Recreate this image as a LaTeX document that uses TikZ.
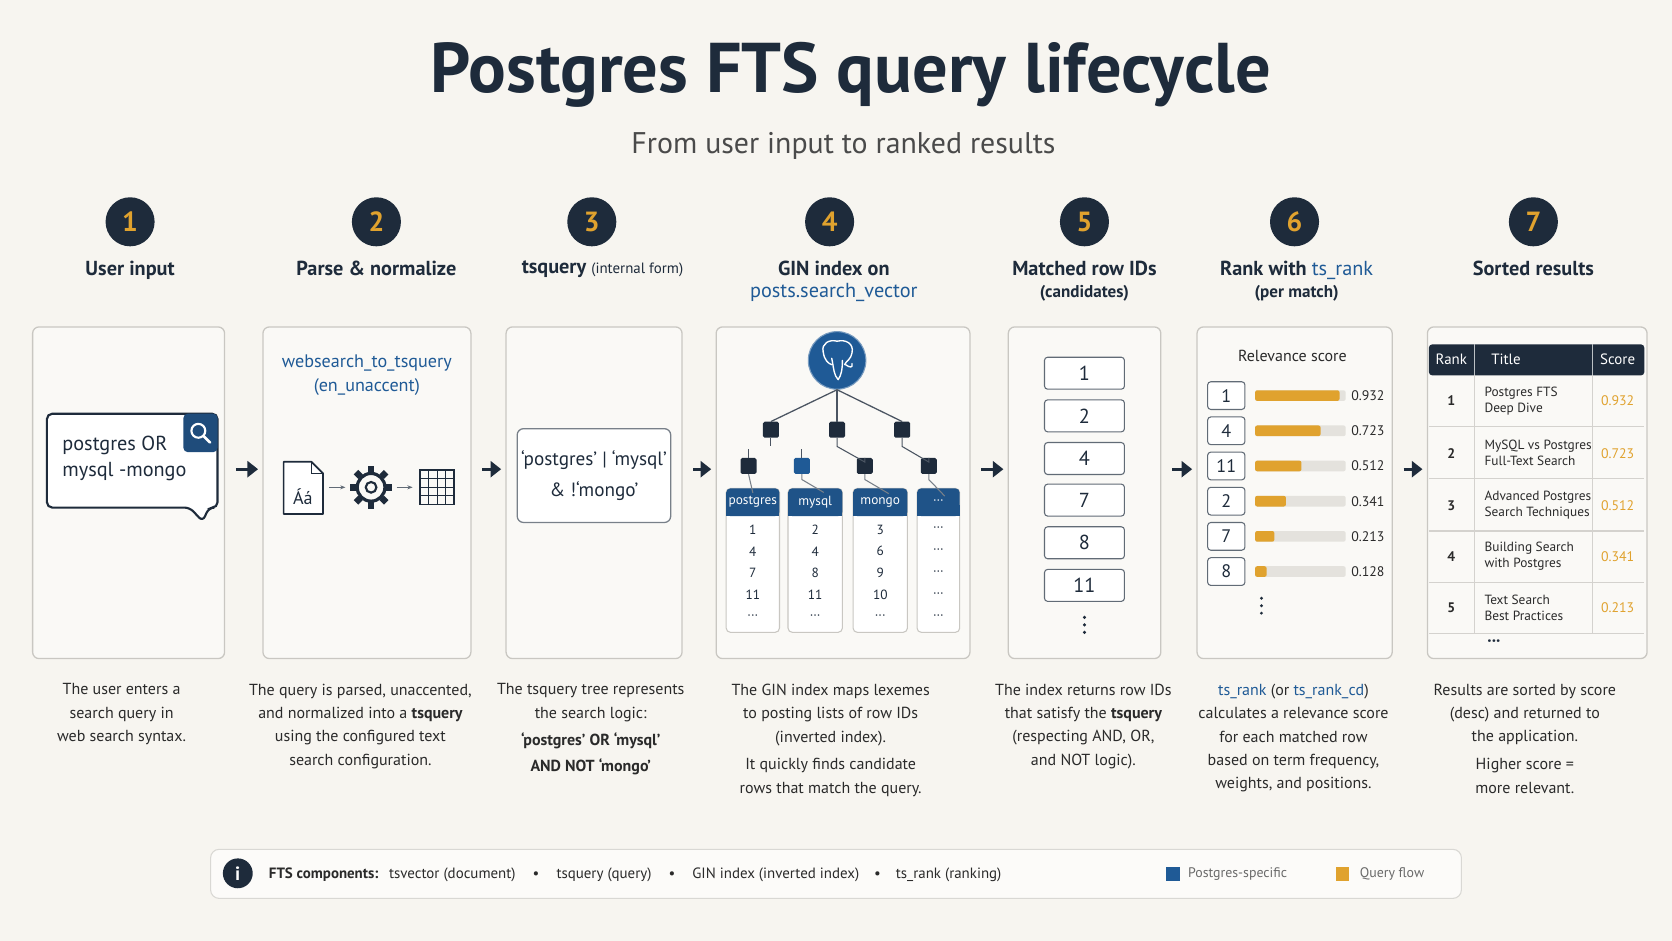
\documentclass[tikz,border=0pt]{standalone}
\usepackage{fontspec}
\setmainfont{PT Sans}
\usetikzlibrary{arrows.meta}
\definecolor{bg}{HTML}{F7F5F0}
\definecolor{navy}{HTML}{1E2B3B}
\definecolor{pblue}{HTML}{1F5A96}
\definecolor{orng}{HTML}{E0A22E}
\definecolor{pborder}{HTML}{C9C7C2}
\definecolor{pfill}{HTML}{FAF9F6}
\definecolor{txt}{HTML}{2A2A2A}
\definecolor{barbg}{HTML}{E4E2DD}
\newcommand{\fs}[1]{\fontsize{#1}{\the\dimexpr #1pt*6/5\relax}\selectfont}
\newcommand{\dts}{\textperiodcentered\textperiodcentered\textperiodcentered}
\begin{document}
\begin{tikzpicture}[x=1pt,y=-1pt,
  panel/.style={draw=pborder,fill=pfill,rounded corners=6pt,line width=1.2pt,anchor=north west,inner sep=0},
  stepc/.style={circle,fill=navy,text=orng,minimum size=46pt,inner sep=0,font=\fs{26}\bfseries},
  steplbl/.style={text=navy,font=\fs{19}\bfseries,align=center,anchor=north},
  desc/.style={text=txt,font=\fs{15},align=center,anchor=north,inner sep=0},
  bigarrow/.style={draw=navy,line width=3pt,-{Triangle[length=10pt,width=15pt]},shorten <=10pt,shorten >=4pt},
  numbox/.style={draw=navy!70,fill=white,rounded corners=3pt,line width=1pt,minimum width=75pt,minimum height=30pt,font=\fs{19},text=navy},
  smbox/.style={draw=navy!70,fill=white,rounded corners=3pt,line width=1pt,minimum width=35pt,minimum height=26pt,font=\fs{17},text=navy},
  sq/.style={fill=navy,rounded corners=1.5pt,minimum size=15pt,inner sep=0},
  sqb/.style={fill=pblue,rounded corners=1.5pt,minimum size=15pt,inner sep=0},
  cell/.style={font=\fs{12.5},text=txt,inner sep=0},
  vdot/.style={fill=navy,circle,inner sep=0,minimum size=3.2pt}
]
\fill[bg] (0,0) rectangle (1568,882);
\useasboundingbox (0,0) rectangle (1568,882);

\node[font=\fs{66}\bfseries,text=navy] (title) at (798,70) {Postgres FTS query lifecycle};
\node[font=\fs{28},text=txt!85] (sub) at (791,137) {From user input to ranked results};

% step circles
\foreach \n/\x in {1/122,2/353,3/555,4/778,5/1017,6/1214,7/1438}
  \node[stepc] (c\n) at (\x,208) {\n};
\node[steplbl] (l1) at (122,241) {User input};
\node[steplbl] (l2) at (353,241) {Parse \& normalize};
\node[steplbl] (l3) at (565,241) {tsquery {\fs{14}\mdseries (internal form)}};
\node[steplbl] (l4) at (782,241) {GIN index on\\[-2pt]{\color{pblue}\mdseries posts.search\_vector}};
\node[steplbl] (l5) at (1017,241) {Matched row IDs\\[-2pt]{\fs{16}(candidates)}};
\node[steplbl] (l6) at (1216,241) {Rank with {\color{pblue}\mdseries ts\_rank}\\[-2pt]{\fs{16}(per match)}};
\node[steplbl] (l7) at (1438,241) {Sorted results};

% panels
\node[panel,minimum width=180pt,minimum height=311pt] (p1) at (30,306) {};
\node[panel,minimum width=195pt,minimum height=311pt] (p2) at (246,306) {};
\node[panel,minimum width=165pt,minimum height=311pt] (p3) at (474,306) {};
\node[panel,minimum width=238pt,minimum height=311pt] (p4) at (671,306) {};
\node[panel,minimum width=143pt,minimum height=311pt] (p5) at (945,306) {};
\node[panel,minimum width=183pt,minimum height=311pt] (p6) at (1122,306) {};
\node[panel,minimum width=206pt,minimum height=311pt] (p7) at (1338,306) {};
\foreach \a/\b in {1/2,2/3,3/4,4/5,5/6,6/7}
  \draw[bigarrow] ([yshift=-134pt]p\a.north east) -- ([yshift=-134pt]p\b.north west);

% panel 1: speech bubble
\draw[navy,line width=2pt,fill=white,rounded corners=5pt] (44,388) -- (204,388) -- (204,476) -- (196,476) -- (190,489) -- (178,476) -- (44,476) -- cycle;
\node[fill=pblue!70!navy,rounded corners=4pt,minimum width=32pt,minimum height=36pt,inner sep=0] (srch) at (188,406) {};
\draw[white,line width=2pt] (186,404) circle (6.5pt);
\draw[white,line width=2.5pt,line cap=round] (191,409) -- (197,415);
\node[font=\fs{19},text=navy,anchor=west,align=left] (q1) at (55,430) {postgres OR\\[2pt]mysql -mongo};

% panel 2
\node[font=\fs{17},text=pblue,align=center] (fn) at (344,352) {websearch\_to\_tsquery\\[2pt](en\_unaccent)};
\draw[navy,line width=1.6pt,fill=white,line join=round] (266,433) -- (292,433) -- (303,444) -- (303,482) -- (266,482) -- cycle;
\draw[navy,line width=1.2pt] (292,433) -- (292,444) -- (303,444);
\node[font=\fs{17},text=navy] (doc) at (284,466) {Áá};
\draw[navy!70,line width=1pt,-{Stealth[length=5pt]}] (309,457) -- (324,457);
\node[draw=navy,line width=3pt,circle,minimum size=26pt,inner sep=0] (gear) at (348,457) {};
\foreach \a in {0,45,90,135,180,225,270,315}
  \fill[navy,rotate around={\a:(348,457)}] (345,437) rectangle (351,443);
\draw[navy,line width=2pt] (348,457) circle (5pt);
\draw[navy!70,line width=1pt,-{Stealth[length=5pt]}] (372,457) -- (387,457);
\node[draw=navy,line width=1.6pt,minimum size=32pt,inner sep=0] (grid) at (410,457) {};
\foreach \d in {8,16,24}{
  \draw[navy,line width=1pt] (394+\d,441) -- (394+\d,473);
  \draw[navy,line width=1pt] (394,441+\d) -- (426,441+\d);}

% panel 3
\node[draw=navy!60,fill=white,line width=1.2pt,rounded corners=6pt,minimum width=144pt,minimum height=88pt,font=\fs{18},text=navy,align=center] (tsq) at (557,446) {`postgres' | `mysql'\\[8pt]\& {!}\kern0pt`mongo'};

% panel 4
\node[circle,fill=pblue,draw=pblue!60,line width=1pt,minimum size=54pt,inner sep=0] (pg) at (785,338) {};
\begin{scope}[white,line width=1.3pt,line cap=round,line join=round]
\draw (772,330) .. controls (770,322) and (778,318) .. (785,320) .. controls (793,318) and (801,322) .. (799,331) .. controls (798,337) and (794,338) .. (792,342);
\draw (772,330) .. controls (773,338) and (777,341) .. (780,342);
\draw (780,336) .. controls (782,346) and (782,352) .. (786,356) .. controls (789,352) and (790,346) .. (790,338);
\draw (793,342) .. controls (797,345) and (800,345) .. (799,341);
\end{scope}
\node[sq] (a1) at (723,403) {};
\node[sq] (a2) at (785,403) {};
\node[sq] (a3) at (846,403) {};
\draw[navy!80,line width=1.2pt] (pg.south) -- (a1.north);
\draw[navy!80,line width=1.2pt] (pg.south) -- (a2.north);
\draw[navy!80,line width=1.2pt] (pg.south) -- (a3.north);
\node[sq] (b1) at (702,437) {};
\node[sqb] (b2) at (752,437) {};
\node[sq] (b3) at (811,437) {};
\node[sq] (b4) at (871,437) {};
\draw[navy!80,line width=1pt] (a1.south) -- ++(0,8);
\draw[navy!80,line width=1pt] (b1.north) -- ++(0,-8);
\draw[navy!80,line width=1pt] (b2.north) -- ++(0,-8);
\draw[navy!80,line width=1pt] (a2.south) -- ++(0,8) -- ([yshift=-4pt]b3.north) -- (b3.north);
\draw[navy!80,line width=1pt] (a3.south) -- ++(0,8) -- ([yshift=-4pt]b4.north) -- (b4.north);
\foreach \i/\x/\w/\h/\r in {1/681/50/postgres/{1,4,7,11,\dts},2/739/51/mysql/{2,4,8,11,\dts},3/800/51/mongo/{3,6,9,10,\dts},4/860/40/\dts/{\dts,\dts,\dts,\dts,\dts}}{
  \draw[pborder,line width=1pt,fill=white,rounded corners=4pt] (\x,458) rectangle (\x+\w,593);
  \fill[pblue!85!navy,rounded corners=4pt] (\x,458) rectangle (\x+\w,484);
  \fill[pblue!85!navy] (\x,474) rectangle (\x+\w,484);
  \node[text=white,font=\fs{12.5}] (h\i) at (\x+\w/2,471) {\h};
  \foreach \v [count=\k] in \r
    \node[font=\fs{12.5},text=navy] at (\x+\w/2,476+20.5*\k) {\v};
}
\draw[navy!60,line width=1pt] (b1.south) -- (h1.north);
\draw[navy!60,line width=1pt] (b2.south) -- ++(0,5) -- ([xshift=8pt]h2.north);
\draw[navy!60,line width=1pt] (b3.south) -- ++(0,5) -- ([xshift=8pt]h3.north);
\draw[navy!60,line width=1pt] (b4.south) -- ++(0,5) -- ([xshift=6pt]h4.north);

% panel 5
\foreach \v/\y [count=\k] in {1/350,2/390,4/430,7/469,8/509,11/549}
  \node[numbox] (m\k) at (1017,\y) {\v};
\foreach \y in {579,586,593} \node[vdot] at (1017,\y) {};

% panel 6
\node[font=\fs{15},text=txt] (rs) at (1212,334) {Relevance score};
\foreach \v/\s/\y [count=\k] in {1/0.932/371,4/0.723/404,11/0.512/437,2/0.341/470,7/0.213/503,8/0.128/536}{
  \node[smbox] (r\k) at (1150,\y) {\v};
  \fill[barbg,rounded corners=2pt] (1177,\y-5) rectangle (1262,\y+5);
  \fill[orng,rounded corners=2pt] (1177,\y-5) rectangle (1177+85*\s,\y+5);
  \node[font=\fs{13},text=txt,anchor=west,inner sep=0] (rv\k) at (1267,\y) {\s};
}
\foreach \y in {561,568,575} \node[vdot,minimum size=3pt] at (1183,\y) {};

% panel 7 table
\fill[navy,rounded corners=3pt] (1340,323) rectangle (1542,352);
\draw[white!70!navy,line width=0.8pt] (1383,323) -- (1383,352) (1493,323) -- (1493,352);
\node[text=white,font=\fs{14}] (th1) at (1361,337) {Rank};
\node[text=white,font=\fs{14},anchor=west] (th2) at (1395,337) {Title};
\node[text=white,font=\fs{14}] (th3) at (1517,337) {Score};
\foreach \r/\t/\s/\y in {1/{Postgres FTS\\Deep Dive}/0.932/376,2/{MySQL vs Postgres\\Full-Text Search}/0.723/425,3/{Advanced Postgres\\Search Techniques}/0.512/474,4/{Building Search\\with Postgres}/0.341/522,5/{Text Search\\Best Practices}/0.213/570}{
  \node[cell,font=\fs{13}\bfseries] (tr\r) at (1361,\y) {\r};
  \node[cell,anchor=west,align=left] (tt\r) at (1392,\y) {\t};
  \node[cell,text=orng,font=\fs{13}] (ts\r) at (1517,\y) {\s};
  \draw[pborder!80,line width=1pt] (1340,\y+24) -- (1542,\y+24);
}
\draw[pborder!80,line width=0.8pt] (1383,352) -- (1383,594) (1493,352) -- (1493,594);
\node[font=\fs{16}\bfseries,text=navy] (tdots) at (1401,603) {\dts};

% descriptions
\node[desc] (d1) at (114,641) {The user enters a\\[4pt]search query in\\[4pt]web search syntax.};
\node[desc] (d2) at (338,641) {The query is parsed, unaccented,\\[4pt]and normalized into a {\bfseries tsquery}\\[4pt]using the configured text\\[4pt]search configuration.};
\node[desc] (d3) at (554,641) {The tsquery tree represents\\[4pt]the search logic:\\[7pt]{\bfseries `postgres' OR `mysql'}\\[7pt]{\bfseries AND NOT `mongo'}};
\node[desc] (d4) at (779,641) {The GIN index maps lexemes\\[4pt]to posting lists of row IDs\\[4pt](inverted index).\\[8pt]It quickly finds candidate\\[4pt]rows that match the query.};
\node[desc] (d5) at (1016,641) {The index returns row IDs\\[4pt]that satisfy the {\bfseries tsquery}\\[4pt](respecting AND, OR,\\[4pt]and NOT logic).};
\node[desc] (d6) at (1213,641) {{\color{pblue}ts\_rank} (or {\color{pblue}ts\_rank\_cd})\\[4pt]calculates a relevance score\\[4pt]for each matched row\\[4pt]based on term frequency,\\[4pt]weights, and positions.};
\node[desc] (d7) at (1430,641) {Results are sorted by score\\[4pt](desc) and returned to\\[4pt]the application.\\[8pt]Higher score =\\[4pt]more relevant.};

% bottom bar
\node[draw=pborder!70,fill=white!60!bg,rounded corners=8pt,line width=1pt,minimum width=1173pt,minimum height=46pt,anchor=north west] (bar) at (197,796) {};
\node[circle,fill=navy,minimum size=28pt,inner sep=0,text=white,font=\fs{18}\bfseries] (info) at (223,819) {i};
\node[anchor=west,font=\fs{14},text=txt,inner sep=0] (comp) at (252,820) {{\bfseries FTS components:}\hspace{10pt}tsvector (document)\hspace{16pt}•\hspace{16pt}tsquery (query)\hspace{16pt}•\hspace{16pt}GIN index (inverted index)\hspace{14pt}•\hspace{14pt}ts\_rank (ranking)};
\node[fill=pblue,minimum size=13pt,inner sep=0] (lg1) at (1100,820) {};
\node[anchor=west,font=\fs{13},text=txt!70,inner sep=0] (lt1) at (1114,820) {Postgres-specific};
\node[fill=orng,minimum size=13pt,inner sep=0] (lg2) at (1259,820) {};
\node[anchor=west,font=\fs{13},text=txt!70,inner sep=0] (lt2) at (1275,820) {Query flow};
\end{tikzpicture}
\end{document}
